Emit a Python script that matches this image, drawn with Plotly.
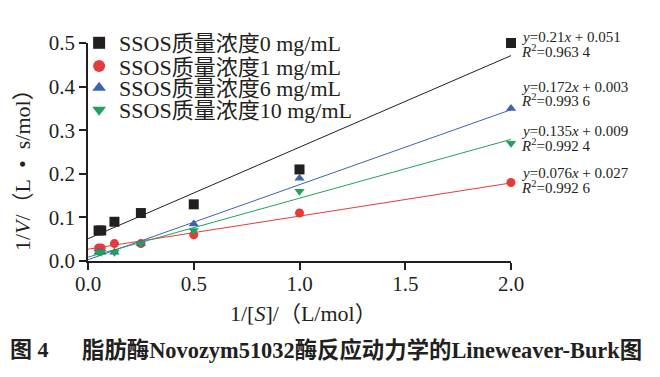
import plotly.graph_objects as go

# ---- data ----
inv_s = [0.05, 0.0625, 0.125, 0.25, 0.5, 1.0, 2.0]
series_names = ["SSOS质量浓度0 mg/mL", "SSOS质量浓度1 mg/mL", "SSOS质量浓度6 mg/mL", "SSOS质量浓度10 mg/mL"]
inv_v_0 = [0.07, 0.07, 0.09, 0.11, 0.13, 0.21, 0.50]
inv_v_1 = [0.03, 0.03, 0.04, 0.04, 0.06, 0.11, 0.18]
inv_v_6 = [0.02, 0.02, 0.02, 0.04, 0.085, 0.19, 0.35]
inv_v_10 = [0.02, 0.02, 0.02, 0.04, 0.07, 0.16, 0.27]
slopes = [0.21, 0.076, 0.172, 0.135]
intercepts = [0.051, 0.027, 0.003, 0.009]
eq_texts = ["<i>y</i>=0.21<i>x</i> + 0.051", "<i>y</i>=0.076<i>x</i> + 0.027",
            "<i>y</i>=0.172<i>x</i> + 0.003", "<i>y</i>=0.135<i>x</i> + 0.009"]
r2_texts = ["<i>R</i><sup>2</sup>=0.963 4", "<i>R</i><sup>2</sup>=0.992 6",
            "<i>R</i><sup>2</sup>=0.993 6", "<i>R</i><sup>2</sup>=0.992 4"]
eq_y = [0.514, 0.202, 0.400, 0.298]
r2_y = [0.482, 0.169, 0.369, 0.265]
line_x = [0.0, 2.0]
x_ticks = [0.0, 0.5, 1.0, 1.5, 2.0]
y_ticks = [0.0, 0.1, 0.2, 0.3, 0.4, 0.5]

colors = ["#231f20", "#e63b3b", "#3d63ae", "#22a05e"]
symbols = ["square", "circle", "triangle-up", "triangle-down"]
sizes = [10, 9, 9, 9]
ys = [inv_v_0, inv_v_1, inv_v_6, inv_v_10]
legend_ids = ["legend", "legend2", "legend3", "legend4"]
legend_y = [1.0, 0.894, 0.794, 0.693]

SERIF = "Liberation Serif, Noto Sans CJK SC"
Y_MAX = 0.5

fig = go.Figure()
for i in range(4):
    fig.add_trace(go.Scatter(
        x=line_x, y=[intercepts[i] + slopes[i] * v for v in line_x],
        mode="lines", line=dict(color=colors[i], width=1), showlegend=False,
        hoverinfo="skip", cliponaxis=False))
for i in range(4):
    fig.add_trace(go.Scatter(
        x=inv_s, y=ys[i], mode="markers", name=series_names[i],
        marker=dict(symbol=symbols[i], size=sizes[i], color=colors[i]),
        cliponaxis=False, legend=legend_ids[i]))

annotations = []
for i in range(4):
    annotations.append(dict(x=1.02, y=eq_y[i] / Y_MAX, xref="paper", yref="paper", text=eq_texts[i],
                            showarrow=False, xanchor="left", yanchor="middle",
                            font=dict(family=SERIF, size=15, color="#231f20")))
    annotations.append(dict(x=1.02, y=r2_y[i] / Y_MAX, xref="paper", yref="paper", text=r2_texts[i],
                            showarrow=False, xanchor="left", yanchor="middle",
                            font=dict(family=SERIF, size=15, color="#231f20")))
annotations.append(dict(x=0.51, y=-0.243, xref="paper", yref="paper",
                        text="1/[<i>S</i>]/（L/mol）", showarrow=False,
                        xanchor="center", yanchor="middle",
                        font=dict(family=SERIF, size=22, color="#231f20")))
annotations.append(dict(x=-0.156, y=0.44, xref="paper", yref="paper",
                        text="1/<i>V</i>/（L\u2002•\u2002s/mol）", showarrow=False, textangle=-90,
                        xanchor="center", yanchor="middle",
                        font=dict(family=SERIF, size=22, color="#231f20")))
annotations.append(dict(x=-0.189, y=-0.408, xref="paper", yref="paper",
                        text="<b>图 4</b>", showarrow=False,
                        xanchor="left", yanchor="middle",
                        font=dict(family=SERIF, size=22, color="#231f20")))
annotations.append(dict(x=-0.019, y=-0.408, xref="paper", yref="paper",
                        text="<b>脂肪酶Novozym51032酶反应动力学的Lineweaver-Burk图</b>", showarrow=False,
                        xanchor="left", yanchor="middle",
                        font=dict(family=SERIF, size=22.4, color="#231f20")))

axis_common = dict(showline=True, linecolor="#231f20", linewidth=1.5, ticks="outside",
                   ticklen=7, tickwidth=1.5, tickcolor="#231f20", showgrid=False,
                   zeroline=False, mirror=False,
                   tickfont=dict(family=SERIF, size=21, color="#231f20"))

legends = {}
for i, lid in enumerate(legend_ids):
    legends[lid] = dict(x=-0.021, y=legend_y[i], xanchor="left", yanchor="middle",
                        bgcolor="rgba(0,0,0,0)",
                        font=dict(family=SERIF, size=22, color="#231f20"),
                        itemsizing="constant")

# page body has an 8px margin, so the figure is shifted by 8px; compensate
fig.update_layout(
    width=652, height=369,
    margin=dict(l=80, r=149, t=35, b=116),
    paper_bgcolor="white", plot_bgcolor="white",
    xaxis=dict(range=[0, 2.0], tickvals=x_ticks, ticktext=[f"{v:.1f}" for v in x_ticks],
               ticklabelstandoff=-4, **axis_common),
    yaxis=dict(range=[0, Y_MAX], tickvals=y_ticks, ticktext=[f"{v:.1f}" for v in y_ticks], **axis_common),
    annotations=annotations,
    showlegend=True,
    **legends,
)

fig.write_html("out.html")
